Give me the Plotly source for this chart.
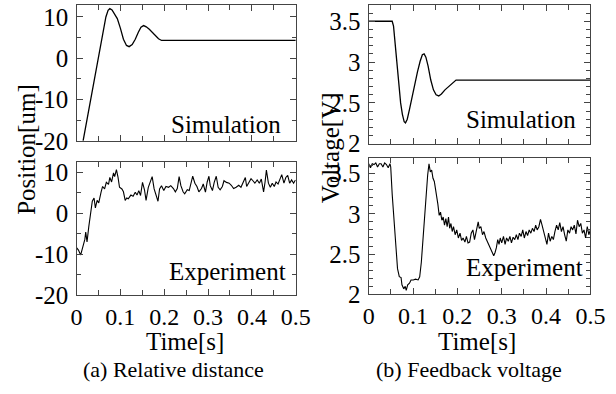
import plotly.graph_objects as go

W, H = 616, 394          # target picture size (reference pixels)
LAYOUT_H = 402           # layout height that lands at 394 px in the captured picture

# ---------------- data ----------------
sim_pos_t = [0.015, 0.030, 0.045, 0.060, 0.067, 0.072, 0.076, 0.081, 0.087, 0.093,
             0.100, 0.107, 0.114, 0.120, 0.127, 0.134, 0.141, 0.147, 0.153, 0.159,
             0.166, 0.173, 0.180, 0.187, 0.194, 0.200, 0.500]
sim_pos_v = [-20.0, -11.3, -2.6, 6.1, 10.0, 11.6, 12.0, 11.7, 10.8, 9.6,
             7.3, 4.6, 3.1, 2.8, 3.3, 4.6, 6.3, 7.5, 7.9, 7.6,
             7.0, 6.2, 5.4, 4.7, 4.3, 4.3, 4.3]

exp_pos_t = [0.0, 0.0044, 0.0095, 0.014, 0.019, 0.021, 0.024, 0.028, 0.0316, 0.036,
             0.040, 0.043, 0.047, 0.0507, 0.056, 0.0595, 0.064, 0.068, 0.073, 0.076,
             0.080, 0.0844, 0.087, 0.091, 0.0947, 0.098, 0.1035, 0.107, 0.111, 0.1145,
             0.118, 0.124, 0.129, 0.134, 0.138, 0.142, 0.146, 0.1505, 0.155, 0.1586,
             0.1637, 0.168, 0.1725, 0.177, 0.1813, 0.1858, 0.1894, 0.1938, 0.199, 0.204,
             0.210, 0.215, 0.221, 0.2254, 0.2298, 0.234, 0.238, 0.243, 0.2467, 0.2526,
             0.257, 0.2614, 0.265, 0.270, 0.2746, 0.279, 0.285, 0.289, 0.294, 0.298,
             0.302, 0.305, 0.310, 0.314, 0.3187, 0.323, 0.3275, 0.3326, 0.3363, 0.342,
             0.348, 0.353, 0.3583, 0.364, 0.370, 0.375, 0.380, 0.385, 0.388, 0.3935,
             0.398, 0.4023, 0.4067, 0.412, 0.417, 0.4214, 0.4266, 0.430, 0.433, 0.4376,
             0.442, 0.4464, 0.451, 0.455, 0.4596, 0.464, 0.468, 0.473, 0.4773, 0.4816,
             0.486, 0.4905, 0.495, 0.4993]
exp_pos_v = [-8.4, -9.0, -10.2, -8.4, -6.4, -4.6, -7.0, -3.3, -0.1, 2.9,
             3.7, 1.3, 3.1, 2.5, 5.1, 6.5, 5.9, 7.5, 7.0, 8.7,
             7.6, 9.8, 8.9, 10.6, 8.7, 6.3, 5.9, 5.2, 3.1, 3.7,
             3.5, 4.4, 4.1, 5.1, 4.4, 5.5, 4.3, 7.5, 5.7, 3.1,
             6.3, 7.5, 8.9, 5.9, 4.3, 2.9, 5.9, 6.7, 5.5, 6.5,
             6.3, 6.7, 6.0, 5.2, 6.0, 8.9, 6.7, 5.2, 4.7, 5.7,
             5.5, 7.1, 9.0, 7.3, 6.5, 5.2, 6.0, 7.1, 5.1, 7.6,
             9.0, 6.7, 5.5, 7.5, 9.0, 6.3, 5.7, 6.5, 7.9, 7.5,
             7.3, 6.8, 6.0, 6.3, 6.8, 6.3, 7.5, 8.7, 6.5, 7.5,
             8.4, 7.9, 7.3, 8.1, 7.3, 8.3, 5.2, 7.6, 10.5, 7.3,
             6.3, 7.3, 6.5, 7.6, 7.1, 8.3, 9.4, 7.3, 8.7, 9.2,
             7.3, 8.1, 7.3, 8.1]

sim_volt_t = [0.0, 0.053, 0.056, 0.060, 0.064, 0.068, 0.072, 0.076, 0.080, 0.083,
              0.087, 0.092, 0.098, 0.104, 0.110, 0.116, 0.121, 0.125, 0.129, 0.134,
              0.140, 0.146, 0.152, 0.158, 0.164, 0.172, 0.180, 0.188, 0.197, 0.500]
sim_volt_v = [3.5, 3.5, 3.44, 3.20, 2.93, 2.70, 2.50, 2.36, 2.27, 2.255,
              2.30, 2.42, 2.58, 2.73, 2.88, 3.01, 3.09, 3.10, 3.06, 2.95,
              2.78, 2.66, 2.60, 2.585, 2.61, 2.66, 2.70, 2.74, 2.78, 2.78]

exp_volt_t = [0.0, 0.004, 0.008, 0.012, 0.016, 0.020, 0.024, 0.028, 0.032, 0.036,
              0.040, 0.044, 0.048, 0.0497, 0.053, 0.057, 0.059, 0.062, 0.065, 0.069,
              0.073, 0.075, 0.079, 0.0824, 0.0846, 0.088, 0.092, 0.0955, 0.1006, 0.1057,
              0.1115, 0.115, 0.1187, 0.1224, 0.126, 0.1296, 0.133, 0.136, 0.139, 0.142,
              0.145, 0.148, 0.1507, 0.1536, 0.156, 0.159, 0.162, 0.165, 0.168, 0.171,
              0.174, 0.177, 0.180, 0.1826, 0.1855, 0.1884, 0.1913, 0.195, 0.1986, 0.2022,
              0.206, 0.2095, 0.213, 0.217, 0.2204, 0.224, 0.2277, 0.2313, 0.235, 0.2386,
              0.2444, 0.247, 0.2494, 0.253, 0.2567, 0.260, 0.264, 0.2676, 0.271, 0.2749,
              0.2785, 0.282, 0.285, 0.288, 0.291, 0.294, 0.2967, 0.300, 0.304, 0.3076,
              0.311, 0.3148, 0.3185, 0.322, 0.3257, 0.3294, 0.333, 0.3366, 0.340, 0.3439,
              0.3475, 0.351, 0.3548, 0.3584, 0.362, 0.3657, 0.3693, 0.373, 0.3766, 0.380,
              0.3838, 0.3875, 0.391, 0.3947, 0.3984, 0.402, 0.4056, 0.4093, 0.413, 0.4165,
              0.420, 0.4238, 0.4274, 0.431, 0.4347, 0.4383, 0.442, 0.4456, 0.4492, 0.453,
              0.4565, 0.460, 0.4637, 0.4675, 0.471, 0.4747, 0.4783, 0.482, 0.4856, 0.4892,
              0.493, 0.4965, 0.500]
exp_volt_v = [3.62, 3.57, 3.62, 3.61, 3.63, 3.58, 3.62, 3.62, 3.58, 3.63,
              3.61, 3.57, 3.62, 3.58, 3.24, 2.92, 2.68, 2.44, 2.32, 2.22,
              2.21, 2.12, 2.07, 2.10, 2.05, 2.12, 2.14, 2.18, 2.18, 2.19,
              2.18, 2.22, 2.40, 2.68, 3.00, 3.24, 3.48, 3.62, 3.52, 3.54,
              3.44, 3.40, 3.32, 3.24, 3.12, 2.98, 3.02, 2.92, 2.96, 2.86,
              2.94, 2.84, 2.96, 2.82, 2.88, 2.78, 2.84, 2.74, 2.80, 2.70,
              2.76, 2.67, 2.70, 2.65, 2.72, 2.64, 2.65, 2.76, 2.80, 2.68,
              2.84, 2.90, 2.82, 2.84, 2.74, 2.78, 2.70, 2.66, 2.62, 2.58,
              2.54, 2.48, 2.52, 2.58, 2.68, 2.62, 2.70, 2.64, 2.72, 2.62,
              2.70, 2.66, 2.72, 2.64, 2.71, 2.68, 2.74, 2.68, 2.76, 2.72,
              2.80, 2.70, 2.78, 2.73, 2.80, 2.76, 2.82, 2.78, 2.86, 2.80,
              2.84, 2.93, 2.86, 2.78, 2.72, 2.62, 2.76, 2.66, 2.72, 2.68,
              2.78, 2.86, 2.80, 2.89, 2.78, 2.84, 2.74, 2.66, 2.80, 2.76,
              2.84, 2.80, 2.86, 2.75, 2.92, 2.84, 2.88, 2.76, 2.80, 2.70,
              2.84, 2.74, 2.80]

time_ticks = [0, 0.1, 0.2, 0.3, 0.4, 0.5]
time_labels = ["0", "0.1", "0.2", "0.3", "0.4", "0.5"]
pos_ticks = [-20, -10, 0, 10]
pos_labels = ["-20", "-10", "0", "10"]
volt_ticks = [2, 2.5, 3, 3.5]
volt_labels = ["2", "2.5", "3", "3.5"]

FONT = "Liberation Serif"

# ---------------- figure ----------------
fig = go.Figure()
sim_line = dict(color="black", width=1.3)
exp_line = dict(color="black", width=1.1)
fig.add_trace(go.Scatter(x=sim_pos_t, y=sim_pos_v, mode="lines", line=sim_line, xaxis="x", yaxis="y"))
fig.add_trace(go.Scatter(x=exp_pos_t, y=exp_pos_v, mode="lines", line=exp_line, xaxis="x2", yaxis="y2"))
fig.add_trace(go.Scatter(x=sim_volt_t, y=sim_volt_v, mode="lines", line=sim_line, xaxis="x3", yaxis="y3"))
fig.add_trace(go.Scatter(x=exp_volt_t, y=exp_volt_v, mode="lines", line=exp_line, xaxis="x4", yaxis="y4"))


def px_x(p):
    return p / W


def px_y(p):
    return 1 - p / H


common = dict(showline=True, linecolor="#444", linewidth=1.4, mirror="allticks",
              ticks="inside", ticklen=6, tickwidth=1, tickcolor="#444",
              showgrid=False, zeroline=False,
              tickfont=dict(family=FONT, size=25, color="black"))


def xax(dom, anchor, labels):
    d = dict(common)
    d.update(domain=dom, anchor=anchor, range=[0, 0.5],
             tickmode="array", tickvals=time_ticks, ticktext=time_labels,
             showticklabels=labels,
             tickfont=dict(family=FONT, size=24, color="black"),
             minor=dict(ticks="inside", ticklen=5, tickcolor="#444", dtick=0.05, tick0=0))
    return d


def yax(dom, anchor, rng, tv, tt, mdt):
    d = dict(common)
    d.update(domain=dom, anchor=anchor, range=rng,
             tickmode="array", tickvals=tv, ticktext=tt, ticklabelstandoff=2,
             minor=dict(ticks="inside", ticklen=4, tickcolor="#444", dtick=mdt, tick0=0))
    return d


L = [px_x(73), px_x(300)]
R = [px_x(375.5), px_x(605)]

fig.update_layout(
    width=W, height=LAYOUT_H, margin=dict(l=0, r=0, t=0, b=0),
    paper_bgcolor="white", plot_bgcolor="white", showlegend=False,
    xaxis=xax(L, "y", False),
    yaxis=yax([px_y(141), px_y(2)], "x", [-20, 12.9], pos_ticks, pos_labels, 5),
    xaxis2=xax(L, "y2", True),
    yaxis2=yax([px_y(299), px_y(163)], "x2", [-20, 12.4], pos_ticks, pos_labels, 5),
    xaxis3=xax(R, "y3", False),
    yaxis3=yax([px_y(144), px_y(2)], "x3", [2, 3.7], volt_ticks, volt_labels, 0.1),
    xaxis4=xax(R, "y4", True),
    yaxis4=yax([px_y(298.3), px_y(158.3)], "x4", [2, 3.695], volt_ticks, volt_labels, 0.1),
)


def ann(text, x, y, size=25, xanchor="center", angle=0):
    fig.add_annotation(text=text, x=px_x(x), y=px_y(y), xref="paper", yref="paper",
                       showarrow=False, xanchor=xanchor, yanchor="middle", textangle=angle,
                       font=dict(family=FONT, size=size, color="black"))


ann("Position[um]", 21, 150, angle=-90)
ann("Voltage[V]", 336, 148, angle=-90)
ann("Time[s]", 185, 346)
ann("Time[s]", 488, 346)
ann("(a) Relative distance", 173, 375, size=22)
ann("(b) Feedback voltage", 479, 375, size=22)
ann("Simulation", 287, 124, xanchor="right")
ann("Simulation", 592, 119, xanchor="right")
ann("Experiment", 292, 275, xanchor="right")
ann("Experiment", 599, 271, xanchor="right")

fig.write_html("out.html")
